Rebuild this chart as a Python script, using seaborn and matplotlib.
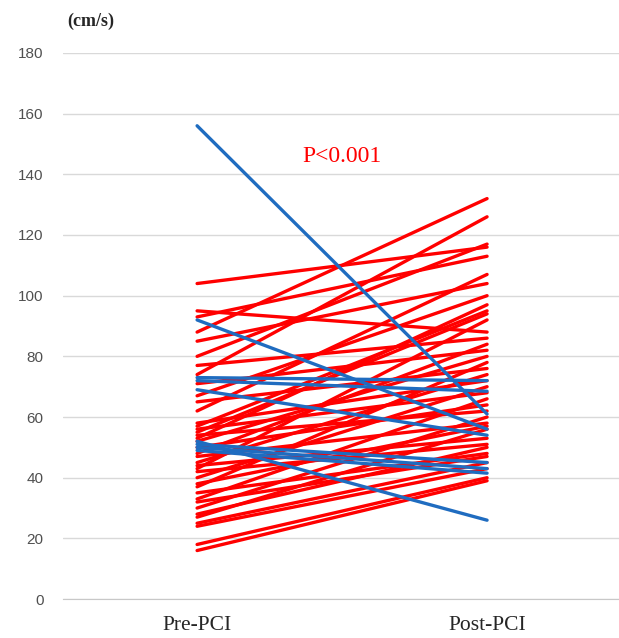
import pandas as pd
import matplotlib
matplotlib.use("Agg")
import matplotlib.pyplot as plt
import seaborn as sns

# pre / post values (cm/s), one entry per patient
red_pre = [104, 95, 93, 88, 85, 80, 77, 74, 71, 67, 65, 62, 58, 57, 56, 55, 54, 53, 52, 50,
           48, 47, 45, 44, 43, 42, 40, 38, 37, 35, 33, 32, 30, 28, 27, 25, 24, 18, 16]
red_post = [116, 88, 113, 132, 104, 117, 86, 126, 82, 100, 76, 107, 72, 95, 68, 94, 62, 97, 80, 64,
            84, 58, 74, 53, 92, 51, 70, 57, 78, 48, 66, 47, 60, 50, 56, 45, 43, 40, 39]
blue_pre = [156, 92, 73, 72, 69, 51, 50, 49, 52]
blue_post = [61, 56, 72, 68.5, 54, 45, 43, 41.5, 26]
stages = ["Pre-PCI", "Post-PCI"]

rows = []
pid = 0
for trend, pre, post in [("up", red_pre, red_post), ("down", blue_pre, blue_post)]:
    for a, b in zip(pre, post):
        rows.append({"id": pid, "stage": stages[0], "value": a, "trend": trend})
        rows.append({"id": pid, "stage": stages[1], "value": b, "trend": trend})
        pid += 1
df = pd.DataFrame(rows)

sns.set_style("white")
fig = plt.figure(figsize=(6.19, 6.38), dpi=100)
ax = fig.add_axes([0.102, 0.061, 0.898, 0.856])

sns.lineplot(data=df, x="stage", y="value", units="id", estimator=None, hue="trend",
             palette={"up": "#ff0000", "down": "#1f6cc0"}, hue_order=["up", "down"],
             linewidth=2.4, legend=False, ax=ax, sort=False)

ax.set_ylim(0, 180)
ax.set_xlim(-0.462, 1.455)
ax.set_yticks(range(0, 181, 20))
ax.yaxis.grid(True, color="#d9d9d9", linewidth=1)
ax.set_axisbelow(True)
for s in ax.spines.values():
    s.set_visible(False)
ax.spines["bottom"].set_visible(True)
ax.spines["bottom"].set_color("#c8c8c8")
ax.set_xlabel("")
ax.set_ylabel("")
ax.tick_params(axis="y", length=0, pad=14, labelsize=11, labelcolor="#505050")
ax.tick_params(axis="x", length=0, pad=12, labelsize=15.5)
for lab in ax.get_yticklabels():
    lab.set_fontfamily("Liberation Sans")
for lab in ax.get_xticklabels():
    lab.set_fontfamily("Liberation Serif")

fig.text(0.147, 0.967, "(cm/s)", fontfamily="Liberation Serif", fontweight="bold",
         fontsize=13, ha="center", va="center")
ax.text(0.5, 146, "P<0.001", color="#ff0000", fontfamily="Liberation Serif",
        fontsize=17, ha="center", va="center")

fig.savefig("out.png", dpi=100)
